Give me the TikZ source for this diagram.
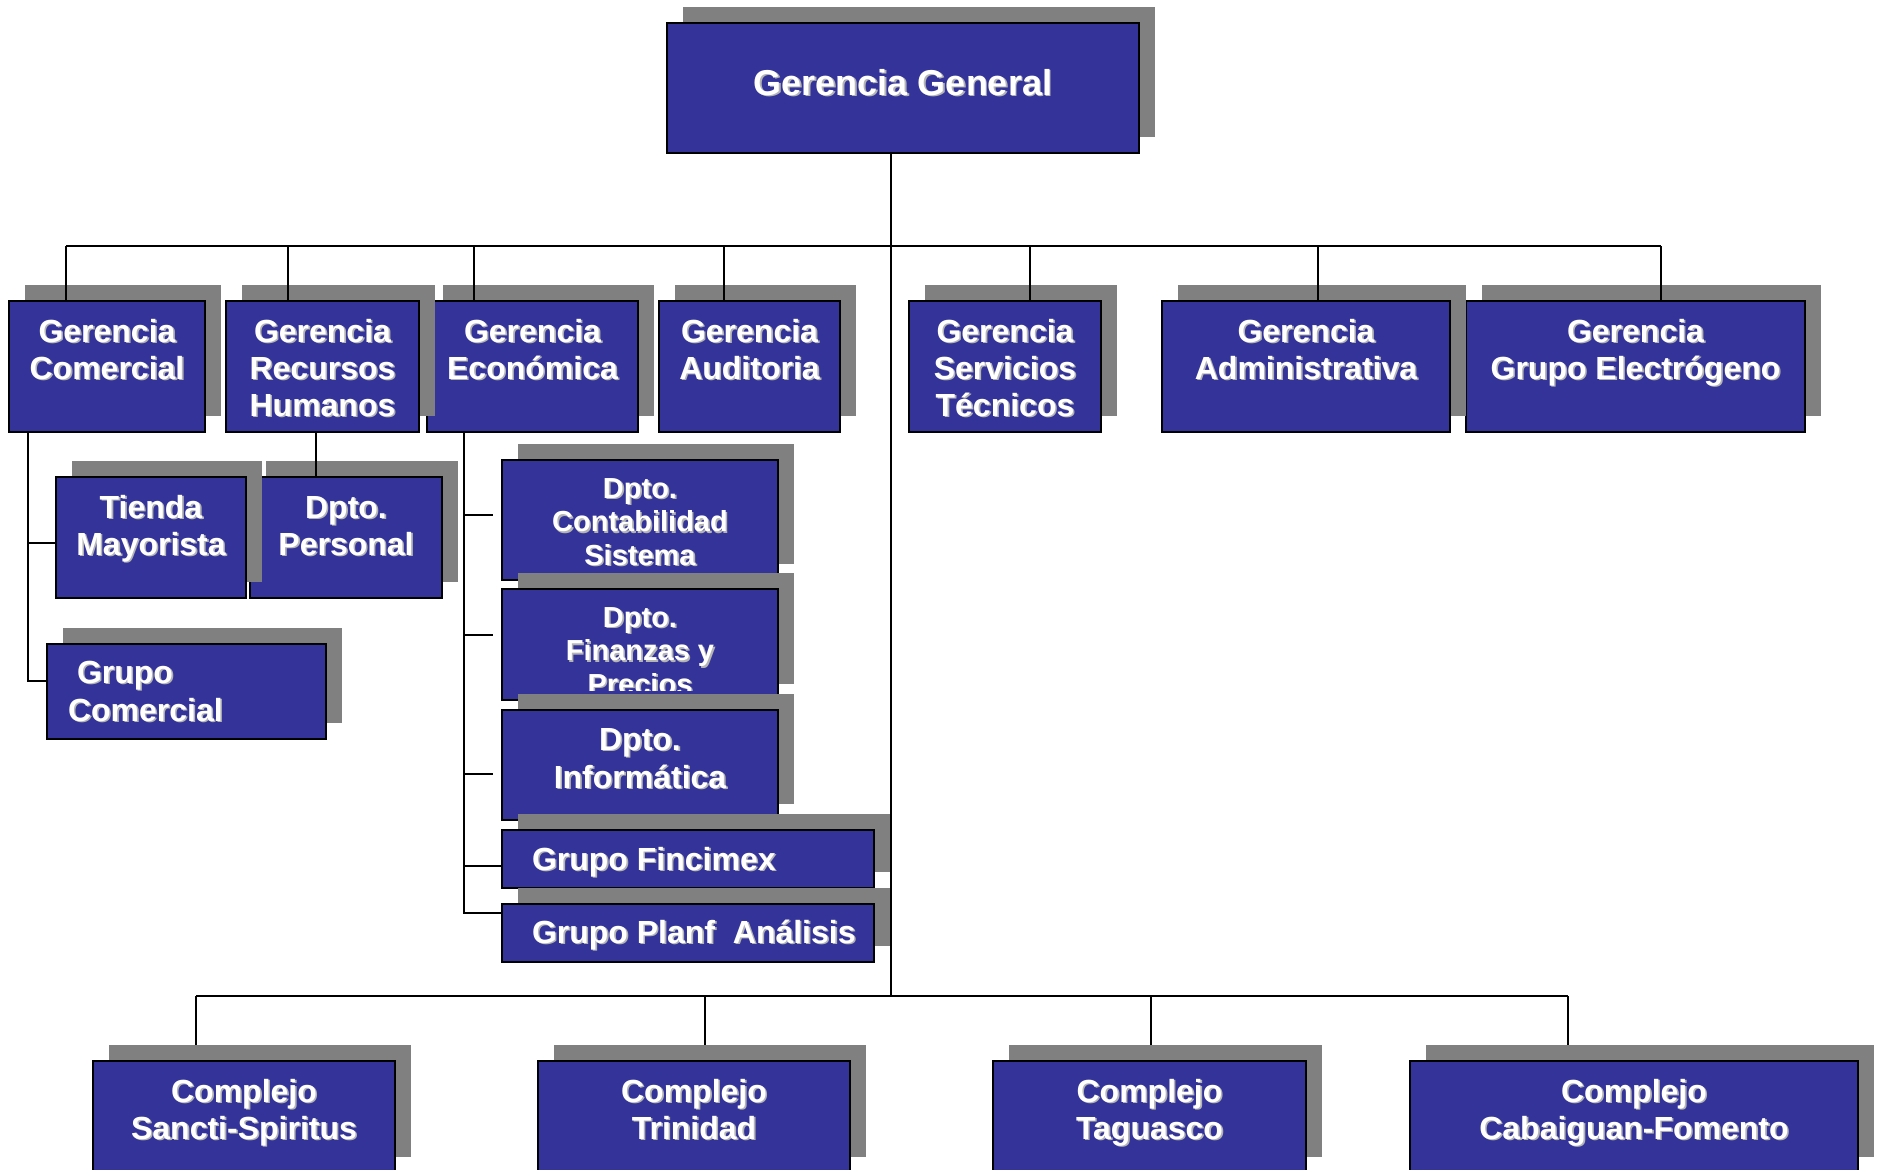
\documentclass[tikz,border=0pt]{standalone}
\usepackage{fontspec}
\setmainfont{Liberation Sans}
\definecolor{boxblue}{HTML}{333399}
\definecolor{shadowgray}{HTML}{808080}
\definecolor{textshade}{HTML}{B4B4B4}

\tikzset{
  orgbox/.style={rectangle, draw=black, line width=1.5pt, fill=boxblue,
    inner sep=0pt, outer sep=0pt, anchor=north west},
  dropshadow/.style={fill=shadowgray},
  conn/.style={draw=black, line width=1.5pt},
  lbl/.style={inner sep=0pt, outer sep=0pt, text=white},
  lblshade/.style={lbl, text=textshade},
  txtA/.style={font=\bfseries\fontsize{32}{37}\selectfont, align=center},
  txtB/.style={font=\bfseries\fontsize{29}{33.5}\selectfont, align=center},
  txtC/.style={font=\bfseries\fontsize{32}{38}\selectfont, align=center},
  txtL/.style={font=\bfseries\fontsize{32}{38}\selectfont, align=left},
  txtG/.style={font=\bfseries\fontsize{36}{42}\selectfont, align=center},
}

% strut that fixes the top of the first text line
\newcommand\firstline{\rule{0pt}{31pt}}

% box with its grey drop shadow: name, left, top, right, bottom
\newcommand\orgunit[5]{%
  \fill[dropshadow] ({#2+16},{#3-16}) rectangle ({#4+16},{#5-16});
  \node[orgbox, minimum width={#4-#2}, minimum height={#5-#3}] (#1) at (#2,#3) {};
}
% centred label: box, distance below top edge, style, text
\newcommand\clabel[4]{%
  \path (#1.north) ++(0,#2) coordinate (#1-top);
  \node[lblshade,#3,anchor=north,xshift=1.6pt,yshift=-1.6pt] (#1-shade) at (#1-top) {\firstline#4};
  \node[lbl,#3,anchor=north] (#1-text) at (#1-top) {\firstline#4};
}
% left-aligned label: box, indent, distance below top edge, style, text
\newcommand\llabel[5]{%
  \path (#1.north west) ++(#2,#3) coordinate (#1-top);
  \node[lblshade,#4,anchor=north west,xshift=1.6pt,yshift=-1.6pt] (#1-shade) at (#1-top) {\firstline#5};
  \node[lbl,#4,anchor=north west] (#1-text) at (#1-top) {\firstline#5};
}

\begin{document}
\begin{tikzpicture}[x=1pt,y=-1pt]
\fill[white] (0,0) rectangle (1880,1170);
\useasboundingbox (0,0) rectangle (1880,1170);

% ---- lower bus to the complexes (lies under their shadows)
\coordinate (busBL) at (196,996);
\coordinate (busBR) at (1568,996);
\draw[conn] (busBL) -- (busBR);
\foreach \n/\x in {CSS/196, CT/705, CTag/1151, CCF/1568}{
  \coordinate (drop) at (\x,996);
  \draw[conn] (drop) -- (drop |- 0,1061);
}

% ---- general management
\orgunit{GG}{667}{23}{1139}{153}
\clabel{GG}{41}{txtG}{Gerencia General}

% ---- first level
\orgunit{GGE}{1466}{301}{1805}{432}
\clabel{GGE}{10}{txtA}{Gerencia\\Grupo Electrógeno}
\orgunit{GAdm}{1162}{301}{1450}{432}
\clabel{GAdm}{10}{txtA}{Gerencia\\Administrativa}
\orgunit{GST}{909}{301}{1101}{432}
\clabel{GST}{10}{txtA}{Gerencia\\Servicios\\Técnicos}
\orgunit{GA}{659}{301}{840}{432}
\clabel{GA}{10}{txtA}{Gerencia\\Auditoria}
\orgunit{GE}{427}{301}{638}{432}
\clabel{GE}{10}{txtA}{Gerencia\\Económica}
\orgunit{GRH}{226}{301}{419}{432}
\clabel{GRH}{10}{txtA}{Gerencia\\Recursos\\Humanos}
\orgunit{GC}{9}{301}{205}{432}
\clabel{GC}{10}{txtA}{Gerencia\\Comercial}

% ---- commercial and human resources units
\orgunit{DP}{250}{477}{442}{598}
\clabel{DP}{10}{txtA}{Dpto.\\Personal}
\orgunit{TM}{56}{477}{246}{598}
\clabel{TM}{10}{txtA}{Tienda\\Mayorista}
\orgunit{GCom}{47}{644}{326}{739}
\llabel{GCom}{21}{8}{txtL}{\hspace{9pt}Grupo\\Comercial}

% ---- economic units
\orgunit{DC}{502}{460}{778}{580}
\clabel{DC}{7}{txtB}{Dpto.\\Contabilidad\\Sistema}
\orgunit{DF}{502}{589}{778}{700}
\begin{scope}
  \clip (502,589) rectangle (778,690);
  \clabel{DF}{7}{txtB}{Dpto.\\Finanzas y\\Precios}
\end{scope}
\orgunit{DI}{502}{710}{778}{820}
\clabel{DI}{9}{txtC}{Dpto.\\Informática}
\orgunit{GF}{502}{830}{874}{888}
\llabel{GF}{30}{9}{txtL}{Grupo Fincimex}
\orgunit{GPA}{502}{904}{874}{962}
\llabel{GPA}{30}{8}{txtL}{Grupo Planf\ \ Análisis}

% ---- complexes
\orgunit{CSS}{93}{1061}{395}{1173}
\clabel{CSS}{10}{txtA}{Complejo\\Sancti-Spiritus}
\orgunit{CT}{538}{1061}{850}{1173}
\clabel{CT}{10}{txtA}{Complejo\\Trinidad}
\orgunit{CTag}{993}{1061}{1306}{1173}
\clabel{CTag}{10}{txtA}{Complejo\\Taguasco}
\orgunit{CCF}{1410}{1061}{1858}{1173}
\clabel{CCF}{10}{txtA}{Complejo\\Cabaiguan-Fomento}

% ---- main spine and upper bus
\coordinate (hubT) at (891,246);
\coordinate (hubB) at (891,996);
\draw[conn] (GG.south -| hubT) -- (hubB);
\coordinate (busTL) at (66,246);
\coordinate (busTR) at (1661,246);
\draw[conn] (busTL) -- (busTR);
\foreach \n/\x in {GC/66, GRH/288, GE/474, GA/724, GST/1030, GAdm/1318, GGE/1661}{
  \coordinate (drop) at (\x,246);
  \draw[conn] (drop) -- (drop |- \n.north);
}

% ---- commercial branch
\coordinate (gcEnd) at (28,681);
\coordinate (tmJoin) at (28,543);
\draw[conn] (GC.south -| gcEnd) -- (gcEnd) -- (gcEnd -| GCom.west);
\draw[conn] (tmJoin) -- (tmJoin -| TM.west);

% ---- human resources branch
\coordinate (dpX) at (316,0);
\draw[conn] (GRH.south -| dpX) -- (DP.north -| dpX);

% ---- economic branch
\coordinate (geEnd) at (464,913);
\draw[conn] (GE.south -| geEnd) -- (geEnd) -- (geEnd -| GPA.west);
\foreach \y in {515, 635, 774}{
  \coordinate (stub) at (464,\y);
  \coordinate (stubEnd) at (493,\y);
  \draw[conn] (stub) -- (stubEnd);
}
\coordinate (gfJoin) at (464,866);
\draw[conn] (gfJoin) -- (gfJoin -| GF.west);
\end{tikzpicture}
\end{document}
